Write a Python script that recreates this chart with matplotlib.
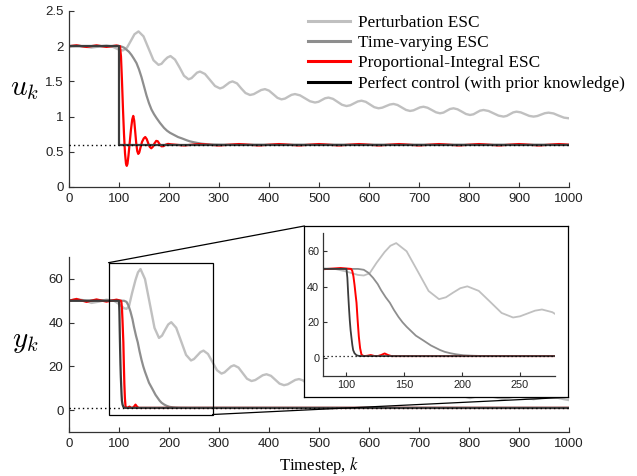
import matplotlib
matplotlib.use("Agg")
import matplotlib.pyplot as plt
from matplotlib.lines import Line2D
from matplotlib.patches import Rectangle, ConnectionPatch
from matplotlib.ticker import FuncFormatter

# ---------------- data ----------------
# Top panel: control input u_k
u_pert_x = [0, 15, 30, 45, 60, 75, 88, 97, 103, 108, 116, 124, 131, 139,
            149, 159, 169, 179, 185, 191, 197, 203, 212, 221, 230, 239, 245, 250.5, 256, 262,
            272, 282, 292, 302, 308, 314.5, 321, 327, 336, 344.5, 353, 362, 369.5, 377, 384.5, 392,
            400, 408.5, 417, 425, 432, 438.5, 445, 452, 462, 472, 482, 492, 499, 505.5, 512, 519,
            528, 537, 546, 555, 562.5, 570, 577.5, 585, 593.5, 602, 610.5, 619, 626.5, 634, 641.5, 649,
            657, 665.5, 674, 682, 689, 695.5, 702, 709, 717, 725.5, 734, 742, 749, 755.5, 762, 769,
            777, 785.5, 794, 802, 809, 815.5, 822, 829, 839, 849, 859, 869, 875.5, 882, 888.5, 895,
            903.5, 912, 920.5, 929, 936.5, 944, 951.5, 959, 969, 979, 990, 1000]
u_pert_y = [2.0, 2.01, 1.995, 1.98, 1.995, 2.01, 1.99, 1.96, 1.945, 1.94, 1.98, 2.08, 2.17, 2.21,
            2.14, 1.97, 1.80, 1.735, 1.75, 1.80, 1.84, 1.86, 1.81, 1.70, 1.58, 1.53, 1.546, 1.585, 1.624, 1.64,
            1.605, 1.52, 1.435, 1.40, 1.415, 1.45, 1.485, 1.50, 1.472, 1.40, 1.335, 1.307, 1.319, 1.349, 1.378, 1.39,
            1.369, 1.318, 1.266, 1.245, 1.256, 1.283, 1.309, 1.32, 1.302, 1.26, 1.218, 1.20, 1.21, 1.235, 1.26, 1.27,
            1.252, 1.21, 1.168, 1.15, 1.161, 1.188, 1.215, 1.226, 1.21, 1.172, 1.134, 1.118, 1.127, 1.149, 1.171, 1.18,
            1.165, 1.13, 1.095, 1.08, 1.089, 1.11, 1.131, 1.14, 1.126, 1.094, 1.061, 1.047, 1.057, 1.083, 1.108, 1.118,
            1.104, 1.071, 1.037, 1.023, 1.033, 1.059, 1.084, 1.094, 1.08, 1.047, 1.014, 1.0, 1.01, 1.035, 1.06, 1.07,
            1.06, 1.035, 1.01, 1.0, 1.008, 1.028, 1.048, 1.056, 1.045, 1.015, 0.985, 0.976]

u_tv_x = [0, 100, 105, 110, 115, 120, 125, 130, 135, 140, 145, 150, 155, 160, 165, 170, 175, 182,
          190, 196, 202, 210, 218, 226, 235, 242, 250, 258, 265, 275, 285, 300, 320, 1000]
u_tv_y = [2.0, 2.0, 1.995, 1.98, 1.95, 1.92, 1.875, 1.82, 1.76, 1.67, 1.56, 1.43, 1.30, 1.19, 1.10,
          1.035, 0.98, 0.91, 0.84, 0.80, 0.77, 0.74, 0.71, 0.69, 0.665, 0.648, 0.635, 0.624, 0.615,
          0.608, 0.603, 0.601, 0.6, 0.6]

u_pi_x = [0, 15, 35, 55, 75, 95, 102, 104, 106, 108, 110, 112, 114, 115.5, 117, 119, 121, 124, 126.5,
          128.5, 130.5, 132.5, 134.5, 136.5, 138.5, 140.5, 143, 146, 149.5, 152.5, 155.5, 158.5, 161.5,
          164.5, 167.5, 171, 174.5, 177.5, 181, 185, 189, 193, 198, 205, 230, 260, 300, 340, 380, 420,
          460, 500, 540, 580, 620, 660, 700, 740, 780, 820, 860, 900, 940, 980, 1000]
u_pi_y = [2.0, 2.012, 1.99, 2.012, 1.99, 2.01, 2.0, 1.85, 1.5, 1.1, 0.75, 0.48, 0.33, 0.30, 0.33, 0.45,
          0.6, 0.82, 0.96, 1.01, 0.94, 0.78, 0.62, 0.51, 0.47, 0.49, 0.56, 0.64, 0.69, 0.71, 0.68, 0.62,
          0.57, 0.55, 0.57, 0.62, 0.655, 0.65, 0.61, 0.578, 0.58, 0.6, 0.612, 0.605, 0.59, 0.61, 0.59,
          0.61, 0.59, 0.61, 0.59, 0.61, 0.59, 0.61, 0.59, 0.61, 0.59, 0.61, 0.59, 0.61, 0.59, 0.61, 0.59,
          0.61, 0.6]

u_opt_x = [0, 100, 100, 1000]
u_opt_y = [2.0, 2.0, 0.6, 0.6]
u_star = 0.6

# Bottom panel: output y_k
y_pert_x = [0, 15, 30, 45, 60, 75, 90, 100, 110, 115, 120, 126, 133, 138, 143,
            152, 161.5, 171, 180, 186, 192, 198.4, 204.5, 214.4, 224.3, 234.1, 244, 250, 256.5, 263, 269,
            278, 287, 296, 305, 311, 317.5, 324, 330, 339, 347.5, 356, 365, 372.5, 380, 387.5, 395,
            404, 412.5, 421, 430, 437.5, 445, 452.5, 460, 468, 476, 484, 492, 519, 555, 585, 619, 649,
            682, 709, 742, 769, 802, 829, 869, 895, 929, 944, 959, 975, 990, 1000]
y_pert_y = [50, 50.8, 50.2, 49, 49.6, 50.5, 50, 48.5, 46.6, 46.3, 47.5, 53.4, 59.5, 63, 64.5,
            59.9, 48.8, 37.6, 33, 34.05, 36.6, 39.15, 40.2, 37.64, 31.45, 25.26, 22.7, 23.36, 24.95, 26.54, 27.2,
            25.67, 21.95, 18.23, 16.7, 17.25, 18.6, 19.95, 20.5, 19.45, 16.9, 14.35, 13.3, 13.75, 14.85, 15.95, 16.4,
            15.67, 13.9, 12.13, 11.4, 11.8, 12.8, 13.8, 14.2, 13.6, 12.1, 10.6, 10, 12.2, 8.6, 10.8, 7.7, 9.4,
            6.8, 8.3, 6.0, 7.7, 5.5, 7.1, 5.0, 6.5, 5.0, 5.6, 6.2, 5.8, 5.0, 4.6]

y_tv_x = [0, 110, 115, 119, 123, 127, 130, 134, 137.5, 141, 145, 148.5, 152, 156, 160, 166, 173, 181,
          185, 190, 195, 201, 208, 215, 225, 240, 1000]
y_tv_y = [50, 50, 49.5, 47.8, 45, 41.5, 38, 34, 31, 27, 23, 20, 17.5, 15, 12.5, 10, 7, 4.4, 3.4, 2.6,
          2.0, 1.5, 1.25, 1.1, 1.03, 1.0, 1.0]

y_pi_x = [0, 15, 35, 55, 75, 95, 104, 105, 106, 107, 108, 108.7, 109.7, 110.7, 111.8, 113, 115, 118,
          121, 124, 127, 130, 133, 136, 139, 1000]
y_pi_y = [50, 50.8, 49.5, 50.6, 49.6, 50.5, 50, 49, 46, 41, 35, 31, 21, 12, 5.5, 1.8, 1.0, 1.2, 1.6,
          1.1, 1.0, 1.6, 2.5, 1.6, 1.0, 1.0]

y_opt_x = [0, 100, 100.8, 101.5, 102.2, 102.9, 103.6, 104.4, 105.1, 105.8, 107, 108.7, 110.5, 113, 1000]
y_opt_y = [50, 50, 45, 36, 28, 21, 15.5, 11, 7.2, 4.4, 2.6, 1.5, 1.15, 1.03, 1.0]
y_star = 1.0

labels = ["Perturbation ESC", "Time-varying ESC", "Proportional-Integral ESC",
          "Perfect control (with prior knowledge)"]
x_ticks = [0, 100, 200, 300, 400, 500, 600, 700, 800, 900, 1000]
u_ticks = [0, 0.5, 1, 1.5, 2, 2.5]
y_ticks = [0, 20, 40, 60]
inset_xticks = [100, 150, 200, 250]
zoom_box = (79, -2, 287, 67.4)  # x0, y0, x1, y1 of the zoomed region

# ---------------- styles ----------------
c_pert = "#c0c0c0"
c_tv = "#8e8e8e"
c_pi = "#ff0000"
c_opt = "#3c3c3c"
ax_col = "#333333"

plt.rcParams["font.family"] = ["Liberation Sans", "DejaVu Sans"]
plt.rcParams["mathtext.fontset"] = "cm"

fig = plt.figure(figsize=(6.37, 4.76), dpi=100)

W, H = 637.0, 476.0
def ax_rect(l, t, r, b):
    return [l / W, 1 - b / H, (r - l) / W, (b - t) / H]

ax1 = fig.add_axes(ax_rect(69, 11, 569, 187))
ax2 = fig.add_axes(ax_rect(69, 257, 569, 432))

def style(ax, fs=9.5, pad=4, tl=3.5):
    for s in ["top", "right"]:
        ax.spines[s].set_visible(False)
    for s in ["left", "bottom"]:
        ax.spines[s].set_color(ax_col)
        ax.spines[s].set_linewidth(0.9)
    ax.tick_params(direction="in", length=tl, width=0.8, color=ax_col,
                   labelsize=fs, labelcolor="#222222", pad=pad)

fmt = FuncFormatter(lambda v, p: "%g" % v)

# top panel
ax1.plot(u_pert_x, u_pert_y, color=c_pert, lw=1.7)
ax1.plot(u_tv_x, u_tv_y, color=c_tv, lw=1.6)
ax1.plot(u_pi_x, u_pi_y, color=c_pi, lw=1.6)
ax1.plot(u_opt_x, u_opt_y, color=c_opt, lw=1.6)
ax1.axhline(u_star, color="black", lw=1.0, ls=(0, (1, 2.2)), zorder=5)
ax1.set_xlim(0, 1000)
ax1.set_ylim(0, 2.5)
ax1.set_xticks(x_ticks)
ax1.set_yticks(u_ticks)
ax1.yaxis.set_major_formatter(fmt)
style(ax1)

# bottom panel
ax2.plot(y_pert_x, y_pert_y, color=c_pert, lw=1.7)
ax2.plot(y_tv_x, y_tv_y, color=c_tv, lw=1.6)
ax2.plot(y_pi_x, y_pi_y, color=c_pi, lw=1.6)
ax2.plot(y_opt_x, y_opt_y, color=c_opt, lw=1.6)
ax2.axhline(y_star, color="black", lw=1.0, ls=(0, (1, 2.2)), zorder=5)
ax2.set_xlim(0, 1000)
ax2.set_ylim(-10, 70)
ax2.set_xticks(x_ticks)
ax2.set_yticks(y_ticks)
style(ax2)
bx0, by0, bx1, by1 = zoom_box
ax2.add_patch(Rectangle((bx0, by0), bx1 - bx0, by1 - by0, fill=False, ec="black", lw=0.9, zorder=10))

# inset frame and inset axes
frame = fig.add_axes(ax_rect(304.3, 226, 567.7, 397.3), zorder=5)
frame.set_xticks([])
frame.set_yticks([])
frame.set_facecolor("white")
for s in frame.spines.values():
    s.set_color("black")
    s.set_linewidth(0.9)

axi = fig.add_axes(ax_rect(323.3, 233.3, 554.7, 375.7), zorder=6)
axi.patch.set_alpha(0)
axi.plot(y_pert_x, y_pert_y, color=c_pert, lw=1.3)
axi.plot(y_tv_x, y_tv_y, color=c_tv, lw=1.3)
axi.plot(y_pi_x, y_pi_y, color=c_pi, lw=1.4)
axi.plot(y_opt_x, y_opt_y, color=c_opt, lw=1.3)
axi.axhline(y_star, color="black", lw=0.9, ls=(0, (1, 2.2)), zorder=5)
axi.set_xlim(80, 280)
axi.set_ylim(-10, 70)
axi.set_xticks(inset_xticks)
axi.set_yticks(y_ticks)
style(axi, fs=7.8, pad=3, tl=3)

# connector lines
for xyA, xyB in [((bx0, by1), (0, 1)), ((bx1, by0), (1, 0))]:
    cp = ConnectionPatch(xyA=xyA, coordsA=ax2.transData, xyB=xyB, coordsB=frame.transAxes,
                         color="black", lw=0.9)
    cp.set_zorder(4)
    fig.add_artist(cp)

# labels
fig.text(25 / W, 1 - 88 / H, r"$u_k$", fontsize=21, ha="center", va="center")
fig.text(25 / W, 1 - 341 / H, r"$y_k$", fontsize=21, ha="center", va="center")
fig.text(319 / W, 1 - 465 / H, r"Timestep, $k$", fontsize=12, ha="center", va="center",
         family=["Liberation Serif"], math_fontfamily="stix")

# legend
handles = [Line2D([], [], color=c_pert, lw=2.2),
           Line2D([], [], color=c_tv, lw=2.2),
           Line2D([], [], color=c_pi, lw=2.2),
           Line2D([], [], color="black", lw=2.2)]
fig.legend(handles, labels, loc="upper left", bbox_to_anchor=(308 / W, 1 - 15 / H),
           frameon=False, prop={"family": "Liberation Serif", "size": 12.4},
           handlelength=2.45, handletextpad=0.45, labelspacing=0.24, borderpad=0,
           borderaxespad=0)

fig.savefig("out.png", dpi=100)
